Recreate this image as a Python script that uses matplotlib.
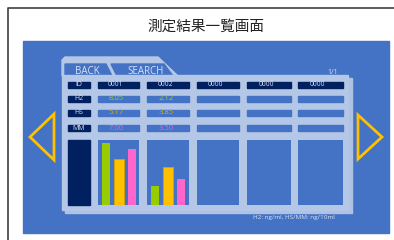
import matplotlib
matplotlib.use("Agg")
import matplotlib.pyplot as plt
from matplotlib.patches import Rectangle, Polygon

plt.rcParams['font.family'] = ['Noto Sans CJK JP', 'DejaVu Sans']

# data shown on the screen
title = "測定結果一覧画面"
row_labels = ["ID", "H2", "HS", "MM"]
ids = ["0001", "0002", "0000", "0000", "0000"]
h2_vals = ["8.05", "2.12", "", "", ""]
hs_vals = ["5.17", "3.85", "", "", ""]
mm_vals = ["7.00", "3.50", "", "", ""]
# bar levels as drawn (pixels of a 65 px cell)
bar_h2 = [62, 19, 0, 0, 0]
bar_hs = [46, 38, 0, 0, 0]
bar_mm = [56, 26, 0, 0, 0]
page = "1/1"
unit_note = "H2: ng/ml, HS/MM: ng/10ml"

# colours
BLUE = "#4472C4"
LIGHT = "#B4C7E7"
SHADOW = "#AEC2E5"
NAVY = "#002060"
TXT = "#DAE3F3"
GREEN = "#99CC00"
ORANGE = "#FFC000"
PINK = "#FF66CC"
COL_TXT = ["#92D050", "#E6AC00", "#D966E0"]

W, H = 394, 240
fig = plt.figure(figsize=(W / 100, H / 100), dpi=100)
ax = fig.add_axes([0, 0, 1, 1])
ax.set_xlim(0, W)
ax.set_ylim(H, 0)
ax.axis("off")

# window frame
ax.plot([8, 8, W], [H, 8, 8], color="#404040", lw=1.2)
ax.text(206, 27, title, ha="center", va="center", fontsize=10.5, color="#222222")

# blue screen
ax.add_patch(Rectangle((23, 41), 366, 192, color=BLUE))

# tabs
ax.add_patch(Polygon([(62, 76), (62, 60), (65, 57), (158, 57), (178, 76)], color=LIGHT))
ax.add_patch(Polygon([(65, 76), (65, 64), (106, 64), (112, 76)], color=BLUE))
ax.add_patch(Polygon([(111, 64), (164, 64), (173, 76), (117, 76)], color=BLUE))
ax.text(87, 71, "BACK", ha="center", va="center", fontsize=7, color=TXT, family=["Open Sans"])
ax.text(146, 71, "SEARCH", ha="center", va="center", fontsize=7, color=TXT, family=["Open Sans"])
ax.text(333, 72, page, ha="center", va="center", fontsize=5, color=TXT, family=["Open Sans"])

# table panel with shadow
ax.add_patch(Rectangle((65, 78), 287, 135, color=SHADOW))
ax.add_patch(Rectangle((62, 75), 286, 135, color=LIGHT))

col_x = [98, 147, 197, 247, 298]
col_w = [41, 42, 42, 44, 45]
row_y = [82, 96, 110, 125]
row_h = 6

rows = [ids, h2_vals, hs_vals, mm_vals]
for r, (label, y) in enumerate(zip(row_labels, row_y)):
    ax.add_patch(Rectangle((68, y), 22, row_h, color=NAVY))
    ax.text(79, y + row_h / 2, label, ha="center", va="center", fontsize=5,
            color=TXT, family=["Open Sans"])
    for c, (x, w) in enumerate(zip(col_x, col_w)):
        ax.add_patch(Rectangle((x, y), w, row_h, color=NAVY if r == 0 else BLUE))
        if rows[r][c]:
            color = TXT if r == 0 else COL_TXT[r - 1]
            ax.text(x + w / 2 - 3 if r == 0 else x + w / 2 - 2, y + row_h / 2, rows[r][c],
                    ha="center", va="center", fontsize=4.8 if r == 0 else 5.5,
                    color=color, family=["Open Sans"])

# chart cells
cell_top, cell_h = 140, 65
ax.add_patch(Rectangle((68, cell_top), 22, cell_h, color=NAVY))
offsets = [8, 20.5, 33.5]
widths = [8, 10, 8]
for c, (x, w) in enumerate(zip(col_x, col_w)):
    cax = fig.add_axes([x / W, 1 - (cell_top + cell_h) / H, w / W, cell_h / H])
    cax.set_facecolor(BLUE)
    cax.set_xlim(0, w)
    cax.set_ylim(0, cell_h)
    for s in cax.spines.values():
        s.set_visible(False)
    cax.set_xticks([])
    cax.set_yticks([])
    levels = [bar_h2[c], bar_hs[c], bar_mm[c]]
    colors = [GREEN, ORANGE, PINK]
    cax.bar(offsets, levels, width=widths, color=colors, edgecolor=["none", "#D9A300", "none"],
            linewidth=0.6)

ax.text(253, 218, unit_note, ha="left", va="center", fontsize=4.6, color=TXT, family=["Open Sans"])

# navigation arrows
ax.add_patch(Polygon([(30, 137), (54, 114), (54, 160)], closed=True, fill=False,
                     edgecolor=ORANGE, lw=2))
ax.add_patch(Polygon([(382, 137), (358, 115), (358, 159)], closed=True, fill=False,
                     edgecolor=ORANGE, lw=2))

fig.savefig("out.png", dpi=100, facecolor="white")
